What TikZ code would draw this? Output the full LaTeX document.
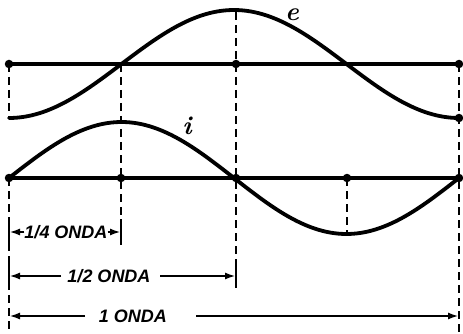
\documentclass[tikz,border=0pt]{standalone}
\usepackage{fontspec}
\newfontfamily\labfont{Liberation Sans}
\usetikzlibrary{arrows.meta}
\begin{document}
\begin{tikzpicture}[x=1pt,y=-1pt,
  curve/.style={line width=3.8pt,line cap=round},
  axis/.style={line width=3.3pt},
  guide/.style={line width=2.6pt,dash pattern=on 8pt off 5pt},
  dimarrow/.style={line width=2.6pt,-{Latex[length=11pt,width=7pt]}},
  tickbar/.style={line width=2.6pt},
  dot/.style={circle,fill=black,inner sep=0pt,minimum size=8.5pt},
  dimlabel/.style={font=\labfont\bfseries\itshape\fontsize{18}{18}\selectfont,inner sep=0pt},
  curvelabel/.style={font=\bfseries\itshape\fontsize{26}{26}\selectfont,inner sep=0pt,anchor=base}]
\useasboundingbox (0,0) rectangle (463,334);
% axis points
\node[dot] (e0) at (9,64) {};
\node[dot] (e2) at (236,64) {};
\node[dot] (e4) at (459,64) {};
\node[dot] (e5) at (459,118) {};
\node[dot] (i0) at (9,178) {};
\node[dot] (i1) at (121,178) {};
\node[dot] (i2) at (236,178) {};
\node[dot] (i3) at (347,178) {};
\node[dot] (i4) at (459,178) {};
\coordinate (e1) at (121,64);
\coordinate (etop) at (236,12);
\coordinate (emin) at (9,118);
\coordinate (imax) at (121,122);
\coordinate (imin) at (347,233);
\coordinate (l0) at (9,334);
\coordinate (l1) at (121,245);
\coordinate (l2) at (236,286);
\coordinate (l4) at (459,334);
% axes
\draw[axis] (e0.center) -- (e4.center);
\draw[axis] (i0.center) -- (i4.center);
% dashed guides
\draw[guide] (e0.center) -- (emin);
\draw[guide] (i0.center) -- (l0);
\draw[guide] (e1) -- (l1);
\draw[guide] (etop) -- (l2);
\draw[guide] (i3.center) -- (imin);
\draw[guide] (e4.center) -- (l4);
% curves
\draw[curve] plot[domain=9:459,samples=120,smooth] (\x,{64+54*cos(0.8*(\x-9))});
\draw[curve] plot[domain=9:459,samples=120,smooth] (\x,{178-56*sin(0.8*(\x-9))});
\node[curvelabel] (elab) at (292,21) {e};
\node[curvelabel] (ilab) at (187,135) {i};
% 1/4 onda
\coordinate (qa) at (9,232);
\coordinate (qb) at (121,232);
\node[dimlabel] (qt) at (66,232) {1/4 ONDA};
\draw[tickbar] (9,220) -- (9,245);
\draw[tickbar] (121,219) -- (121,245);
\draw[dimarrow] (qt.west) -- (qa);
\draw[dimarrow] (qt.east) -- (qb);
% 1/2 onda
\coordinate (ha) at (9,276);
\coordinate (hb) at (236,276);
\node[dimlabel] (ht) at (109,276) {1/2 ONDA};
\coordinate (hta) at (61,276);
\coordinate (htb) at (160,276);
\draw[tickbar] (9,263) -- (9,288);
\draw[tickbar] (236,263) -- (236,288);
\draw[dimarrow] (hta) -- (ha);
\draw[dimarrow] (htb) -- (hb);
% 1 onda
\coordinate (wa) at (9,316);
\coordinate (wb) at (459,316);
\node[dimlabel] (wt) at (133,316) {1 ONDA};
\coordinate (wta) at (85,316);
\coordinate (wtb) at (196,316);
\draw[dimarrow] (wta) -- (wa);
\draw[dimarrow] (wtb) -- (wb);
\end{tikzpicture}
\end{document}
